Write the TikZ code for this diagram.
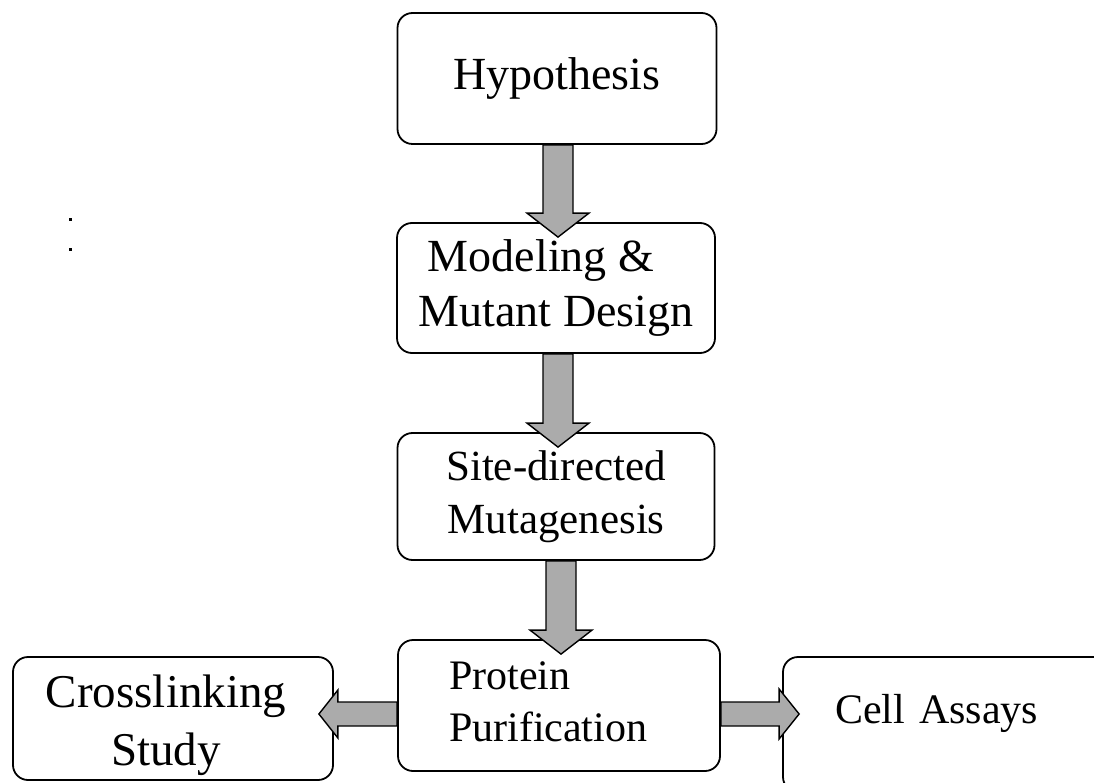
\documentclass[tikz,border=0pt]{standalone}
\usepackage{fontspec}
\setmainfont{Liberation Serif}
\usetikzlibrary{calc}
\tikzset{
  box/.style={draw=black, line width=1.8pt, rounded corners=15pt, rectangle, inner sep=0pt, align=center, fill=white},
  blk/.style={draw=black, line width=1.4pt, fill=black!33, line join=miter},
}
\newcommand\vblk[2]{%
  \draw[blk] ($(#1.south -| #2.north)+(-13,0)$) -- ($(#2.north)+(-13,-9)$) -- ($(#2.north)+(-29,-9)$)
    -- ($(#2.north)+(2,15)$) -- ($(#2.north)+(33,-9)$) -- ($(#2.north)+(17,-9)$)
    -- ($(#1.south -| #2.north)+(17,0)$) -- cycle;}
\begin{document}
\begin{tikzpicture}[x=1pt,y=-1pt]
\useasboundingbox (0,0) rectangle (1094,783);
\clip (0,0) rectangle (1094,783);

\node[box, minimum width=319pt, minimum height=131pt, font=\fontsize{46}{55}\selectfont] (hyp) at (557,78.5) {Hypothesis};
\node[box, minimum width=318pt, minimum height=130pt, font=\fontsize{46}{55}\selectfont] (mod) at (556,288) {Modeling \&\hspace*{30pt}\\Mutant Design};
\node[box, minimum width=317pt, minimum height=127pt, font=\fontsize{43}{53}\selectfont] (site) at (556,496.5) {Site-directed\\Mutagenesis};
\node[box, minimum width=322pt, minimum height=131pt, align=left, text width=220pt, inner xsep=51pt, font=\fontsize{42}{52}\selectfont] (prot) at (559,705.5) {Protein\\Purification\rule[-7pt]{0pt}{0pt}};
\node[box, minimum width=320pt, minimum height=123pt, font=\fontsize{47}{58}\selectfont] (cross) at (173,718.5) {\rule{0pt}{47pt}Crosslinking\hspace*{14pt}\\Study\hspace*{14pt}};
\node[box, minimum width=337pt, minimum height=135pt, align=left, text width=233pt, inner xsep=52pt, text height=29pt, text depth=32pt, font=\fontsize{42}{50}\selectfont] (cell) at (951.5,724.5) {Cell Assays};

\vblk{hyp}{mod}
\vblk{mod}{site}
\vblk{site}{prot}

\coordinate (lm) at ($(prot.west)+(0,8.5)$);
\coordinate (rm) at ($(prot.east)+(0,8.5)$);
\draw[blk] ($(lm)+(0,-12)$) -- ($(cross.east |- lm)+(4,-12)$) -- ($(cross.east |- lm)+(4,-24)$)
  -- ($(cross.east |- lm)+(-15,0)$) -- ($(cross.east |- lm)+(4,24)$) -- ($(cross.east |- lm)+(4,12)$)
  -- ($(lm)+(0,12)$) -- cycle;
\draw[blk] ($(rm)+(0,-12)$) -- ($(cell.west |- rm)+(-3,-12)$) -- ($(cell.west |- rm)+(-3,-25)$)
  -- ($(cell.west |- rm)+(17,0)$) -- ($(cell.west |- rm)+(-3,25)$) -- ($(cell.west |- rm)+(-3,12)$)
  -- ($(rm)+(0,12)$) -- cycle;

\fill[black] (68.5,218.5) rectangle (71.5,221.5);
\fill[black] (68.5,248.5) rectangle (71.5,251.5);
\end{tikzpicture}
\end{document}
